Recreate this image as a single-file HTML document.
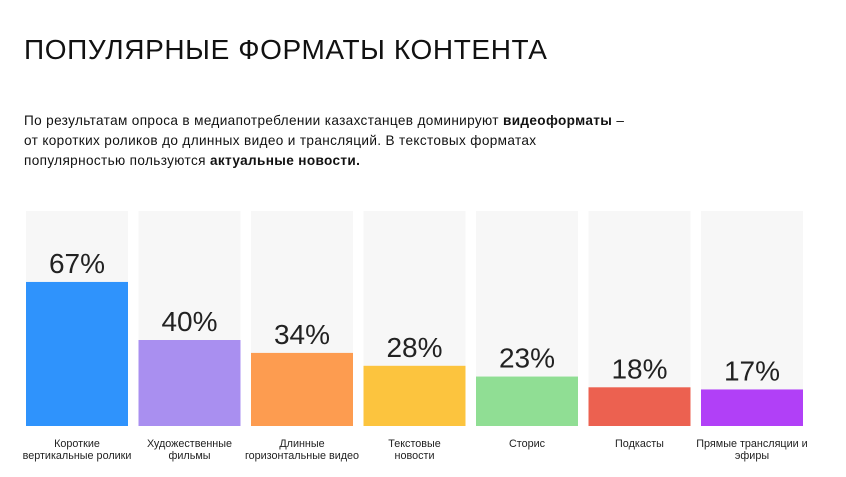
<!DOCTYPE html>
<html><head><meta charset="utf-8">
<style>
body{margin:0;background:#fff;width:846px;height:477px;overflow:hidden;font-family:"Liberation Sans","DejaVu Sans",sans-serif;color:#111;}
h1{position:absolute;left:24px;top:34px;margin:0;font-size:28px;font-weight:400;letter-spacing:0.6px;}
p{position:absolute;left:24px;top:111px;margin:0;font-size:13.6px;line-height:20px;letter-spacing:0.35px;width:700px;}
svg{position:absolute;left:0;top:0;}
</style></head><body>
<h1>ПОПУЛЯРНЫЕ ФОРМАТЫ КОНТЕНТА</h1>
<p>По результатам опроса в медиапотреблении казахстанцев доминируют <b>видеоформаты</b> –<br>от коротких роликов до длинных видео и трансляций. В текстовых форматах<br>популярностью пользуются <b>актуальные новости.</b></p>
<svg id="chart" width="846" height="477"></svg>
<script>
const categories = [["Короткие","вертикальные ролики"],["Художественные","фильмы"],["Длинные","горизонтальные видео"],["Текстовые","новости"],["Сторис"],["Подкасты"],["Прямые трансляции и","эфиры"]];
const values = [67,40,34,28,23,18,17];
const colors = ["#2f93fc","#a98ff0","#fd9c50","#fcc43e","#90de94","#ec6150","#b140f7"];
const svg = document.getElementById('chart');
const NS = "http://www.w3.org/2000/svg";
const x0 = 26, pitch = 112.5, bw = 102, yBottom = 426, yTop = 211;
const yScale = v => yBottom - v / 100 * (yBottom - yTop);
function mk(tag, attrs){const e=document.createElementNS(NS,tag);for(const k in attrs)e.setAttribute(k,attrs[k]);svg.appendChild(e);return e;}
values.forEach((v,i)=>{
  const x = x0 + i*pitch;
  const bg = mk('rect',{x:x,y:yTop,width:bw,height:yBottom-yTop,fill:'#f7f7f7'});
  
  
  const b = mk('rect',{x:x,y:yScale(v),width:bw,height:yBottom-yScale(v),fill:colors[i]});
  
  
  const t = mk('text',{x:x+bw/2,y:yScale(v)-9,'text-anchor':'middle','font-size':'28','fill':'#222'});
  t.textContent = v + '%';
  
  
  categories[i].forEach((ln,j)=>{
    const c = mk('text',{x:x+bw/2,y:447+j*12,'text-anchor':'middle','font-size':'10.8','fill':'#222'});
    c.textContent = ln;
    
    
  });
});
</script>
</body></html>
